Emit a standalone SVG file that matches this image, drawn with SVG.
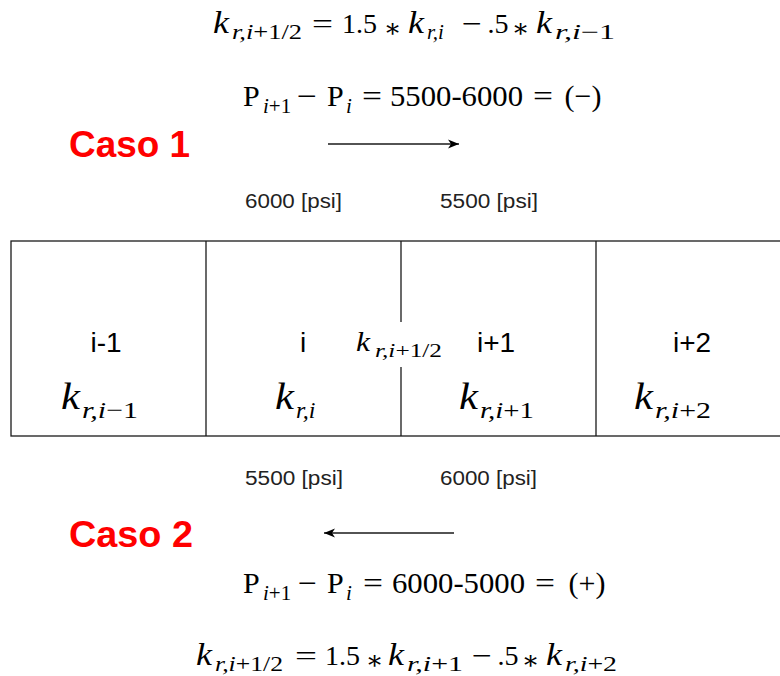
<svg xmlns="http://www.w3.org/2000/svg" width="780" height="676" viewBox="0 0 780 676">
<style>
text{fill:#000}
.m{font-family:"Liberation Serif","DejaVu Serif",serif;font-size:28px}
.ast{font-family:"DejaVu Serif",serif;font-size:26px}
.p{font-family:"Liberation Serif","DejaVu Serif",serif;font-size:30px}
.k{font-family:"Liberation Serif","DejaVu Serif",serif;font-size:31px;font-style:italic}
.kc{font-family:"Liberation Serif","DejaVu Serif",serif;font-size:37px;font-style:italic}
.kf{font-family:"Liberation Serif","DejaVu Serif",serif;font-size:27px;font-style:italic}
.s{font-family:"Liberation Serif","DejaVu Serif",serif;font-size:21px}
.sc{font-family:"Liberation Serif","DejaVu Serif",serif;font-size:24px}
.sf{font-family:"Liberation Serif","DejaVu Serif",serif;font-size:19px}
.it{font-style:italic}
.lbl{font-family:"Liberation Sans",Arial,sans-serif;font-size:20px;fill:#222}
.cell{font-family:"Liberation Sans",Arial,sans-serif;font-size:28px}
.caso{font-family:"Liberation Sans",Arial,sans-serif;font-size:37px;font-weight:bold;fill:#ff0000}
.ln{stroke:#1a1a1a;stroke-width:1.3;fill:none}
</style>
<defs>
<marker id="ah" markerWidth="12" markerHeight="10" refX="11" refY="5" orient="auto" markerUnits="userSpaceOnUse">
<path d="M0,0.5 L11,5 L0,9.5 L3,5 Z" fill="#000"/>
</marker>
</defs>

<g id="eq-top1">
<text class="k" x="213" y="33" textLength="16" lengthAdjust="spacingAndGlyphs">k</text>
<text class="s" x="232" y="39" textLength="70" lengthAdjust="spacingAndGlyphs"><tspan class="it">r,i</tspan>+1/2</text>
<text class="m" x="312" y="33" textLength="21" lengthAdjust="spacingAndGlyphs">=</text>
<text class="m" x="359.5" y="33" text-anchor="middle">1.5</text>
<text class="ast" x="392.5" y="37" text-anchor="middle">∗</text>
<text class="k" x="408" y="33" textLength="16" lengthAdjust="spacingAndGlyphs">k</text>
<text class="s it" x="427" y="39">r,i</text>
<text class="m" x="462" y="33" textLength="20" lengthAdjust="spacingAndGlyphs">−</text>
<text class="m" x="498" y="33" text-anchor="middle">.5</text>
<text class="ast" x="520.5" y="37" text-anchor="middle">∗</text>
<text class="k" x="536" y="33" textLength="16" lengthAdjust="spacingAndGlyphs">k</text>
<text class="s" x="555" y="39" textLength="60" lengthAdjust="spacingAndGlyphs"><tspan class="it">r,i</tspan>−1</text>
</g>

<g id="eq-top2">
<text class="p" x="243" y="106">P</text>
<text class="s" x="263" y="113"><tspan class="it">i</tspan>+1</text>
<text class="p" x="297" y="106" textLength="20" lengthAdjust="spacingAndGlyphs">−</text>
<text class="p" x="327" y="106">P</text>
<text class="s it" x="346" y="113">i</text>
<text class="p" x="362" y="106" textLength="20" lengthAdjust="spacingAndGlyphs">=</text>
<text class="p" x="390" y="106" textLength="133" lengthAdjust="spacingAndGlyphs">5500-6000</text>
<text class="p" x="533" y="106" textLength="20" lengthAdjust="spacingAndGlyphs">=</text>
<text class="p" x="583" y="106" text-anchor="middle">(−)</text>
</g>

<g id="caso1"><text class="caso" x="69" y="157" textLength="121" lengthAdjust="spacingAndGlyphs">Caso 1</text></g>
<g id="p-top-left"><text class="lbl" x="245" y="208" textLength="97" lengthAdjust="spacingAndGlyphs">6000 [psi]</text></g>
<g id="p-top-right"><text class="lbl" x="440" y="208" textLength="98" lengthAdjust="spacingAndGlyphs">5500 [psi]</text></g>

<g id="grid">
<rect class="ln" x="11" y="241" width="790" height="195"/>
<line class="ln" x1="206" y1="241" x2="206" y2="436"/>
<line class="ln" x1="401" y1="241" x2="401" y2="322"/>
<line class="ln" x1="401" y1="367" x2="401" y2="436"/>
<line class="ln" x1="596" y1="241" x2="596" y2="436"/>
</g>

<g id="cell-im1">
<text class="cell" x="106" y="352" text-anchor="middle">i-1</text>
<text class="kc" x="61" y="409" textLength="19" lengthAdjust="spacingAndGlyphs">k</text>
<text class="sc" x="82" y="418" textLength="56" lengthAdjust="spacingAndGlyphs"><tspan class="it">r,i</tspan>−1</text>
</g>
<g id="cell-i">
<text class="cell" x="303" y="352" text-anchor="middle">i</text>
<text class="kc" x="275" y="409" textLength="19" lengthAdjust="spacingAndGlyphs">k</text>
<text class="sc it" x="296" y="418">r,i</text>
</g>
<g id="face">
<text class="kf" x="356" y="351" textLength="14" lengthAdjust="spacingAndGlyphs">k</text>
<text class="sf" x="375" y="357" textLength="67" lengthAdjust="spacingAndGlyphs"><tspan class="it">r,i</tspan>+1/2</text>
</g>
<g id="cell-ip1">
<text class="cell" x="496" y="352" text-anchor="middle">i+1</text>
<text class="kc" x="459" y="409" textLength="19" lengthAdjust="spacingAndGlyphs">k</text>
<text class="sc" x="480" y="418" textLength="54" lengthAdjust="spacingAndGlyphs"><tspan class="it">r,i</tspan>+1</text>
</g>
<g id="cell-ip2">
<text class="cell" x="692" y="352" text-anchor="middle">i+2</text>
<text class="kc" x="634" y="409" textLength="19" lengthAdjust="spacingAndGlyphs">k</text>
<text class="sc" x="655" y="418" textLength="56" lengthAdjust="spacingAndGlyphs"><tspan class="it">r,i</tspan>+2</text>
</g>

<g id="p-bot-left"><text class="lbl" x="245" y="485" textLength="98" lengthAdjust="spacingAndGlyphs">5500 [psi]</text></g>
<g id="p-bot-right"><text class="lbl" x="440" y="485" textLength="97" lengthAdjust="spacingAndGlyphs">6000 [psi]</text></g>
<g id="caso2"><text class="caso" x="69" y="547" textLength="124" lengthAdjust="spacingAndGlyphs">Caso 2</text></g>

<g id="eq-bot1">
<text class="p" x="243" y="593">P</text>
<text class="s" x="263" y="600"><tspan class="it">i</tspan>+1</text>
<text class="p" x="298" y="593" textLength="19" lengthAdjust="spacingAndGlyphs">−</text>
<text class="p" x="327" y="593">P</text>
<text class="s it" x="346" y="600">i</text>
<text class="p" x="363" y="593" textLength="20" lengthAdjust="spacingAndGlyphs">=</text>
<text class="p" x="392" y="593" textLength="133" lengthAdjust="spacingAndGlyphs">6000-5000</text>
<text class="p" x="535" y="593" textLength="20" lengthAdjust="spacingAndGlyphs">=</text>
<text class="p" x="587" y="593" text-anchor="middle">(+)</text>
</g>

<g id="eq-bot2">
<text class="k" x="196" y="665" textLength="16" lengthAdjust="spacingAndGlyphs">k</text>
<text class="s" x="215" y="671" textLength="68" lengthAdjust="spacingAndGlyphs"><tspan class="it">r,i</tspan>+1/2</text>
<text class="m" x="295" y="665" textLength="22" lengthAdjust="spacingAndGlyphs">=</text>
<text class="m" x="342.5" y="665" text-anchor="middle">1.5</text>
<text class="ast" x="374.5" y="669" text-anchor="middle">∗</text>
<text class="k" x="388" y="665" textLength="16" lengthAdjust="spacingAndGlyphs">k</text>
<text class="s" x="407" y="671" textLength="56" lengthAdjust="spacingAndGlyphs"><tspan class="it">r,i</tspan>+1</text>
<text class="m" x="472" y="665" textLength="20" lengthAdjust="spacingAndGlyphs">−</text>
<text class="m" x="508" y="665" text-anchor="middle">.5</text>
<text class="ast" x="530.5" y="669" text-anchor="middle">∗</text>
<text class="k" x="546" y="665" textLength="16" lengthAdjust="spacingAndGlyphs">k</text>
<text class="s" x="565" y="671" textLength="52" lengthAdjust="spacingAndGlyphs"><tspan class="it">r,i</tspan>+2</text>
</g>

<g id="connectors">
<line class="ln" x1="328" y1="144" x2="459" y2="144" marker-end="url(#ah)"/>
<line class="ln" x1="454" y1="533" x2="324" y2="533" marker-end="url(#ah)"/>
</g>
</svg>
